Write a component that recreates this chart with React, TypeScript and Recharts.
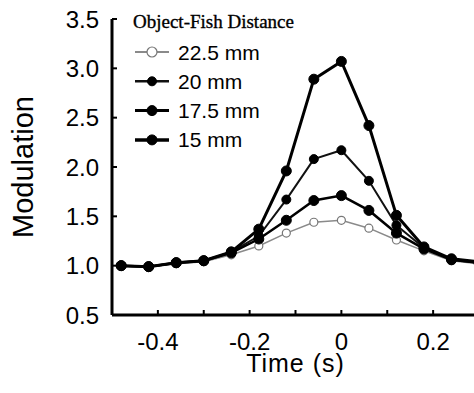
import React from 'react';
import { LineChart, Line, XAxis, YAxis, Legend } from 'recharts';

// time relative to closest approach (s)
const times = [-0.48, -0.42, -0.36, -0.3, -0.24, -0.18, -0.12, -0.06, 0, 0.06, 0.12, 0.18, 0.24, 0.3];

// modulation for each object-fish distance
const mod225 = [1.0, 0.99, 1.02, 1.04, 1.11, 1.2, 1.33, 1.44, 1.46, 1.38, 1.26, 1.15, 1.05, 1.02];
const mod20 = [1.0, 0.99, 1.03, 1.05, 1.14, 1.3, 1.67, 2.08, 2.17, 1.86, 1.41, 1.18, 1.06, 1.03];
const mod175 = [1.0, 0.99, 1.03, 1.05, 1.13, 1.27, 1.46, 1.66, 1.71, 1.56, 1.33, 1.17, 1.06, 1.03];
const mod15 = [1.0, 0.99, 1.03, 1.05, 1.14, 1.37, 1.96, 2.89, 3.07, 2.42, 1.51, 1.19, 1.07, 1.04];

const xTicks = [-0.4, -0.3, -0.2, -0.1, 0, 0.1, 0.2];
const yTicks = [0.5, 1.0, 1.5, 2.0, 2.5, 3.0, 3.5];

const data = times.map((t, i) => ({
  t,
  d225: mod225[i],
  d20: mod20[i],
  d175: mod175[i],
  d15: mod15[i],
}));

const series = [
  { key: 'd225', name: '22.5 mm', stroke: '#8a8a8a', width: 1.5, r: 4, open: true },
  { key: 'd20', name: '20 mm', stroke: '#111', width: 2, r: 4.5, open: false },
  { key: 'd175', name: '17.5 mm', stroke: '#000', width: 2.5, r: 5, open: false },
  { key: 'd15', name: '15 mm', stroke: '#000', width: 3, r: 5, open: false },
];

const sans = '"Liberation Sans", Arial, Helvetica, sans-serif';

const fmtX = (v: number) => {
  const k = Math.round(v * 10);
  if (k % 2 !== 0) return '';
  return k === 0 ? '0' : (k / 10).toFixed(1);
};

// inward tick marks drawn with the label
const X_GAP = 18;
const Y_GAP = 13;

const XTick = (props: any) => {
  const { x, y, payload } = props;
  return (
    <g>
      <line x1={x} x2={x} y1={y - X_GAP} y2={y - X_GAP - 5} stroke="#000" strokeWidth={2} />
      <text x={x} y={y} dy="0.71em" textAnchor="middle" fontFamily={sans} fontSize={24} fill="#000">
        {fmtX(payload.value)}
      </text>
    </g>
  );
};

const YTick = (props: any) => {
  const { x, y, payload } = props;
  return (
    <g>
      <line x1={x + Y_GAP} x2={x + Y_GAP + 5} y1={y} y2={y} stroke="#000" strokeWidth={2} />
      <text x={x} y={y} dy="0.355em" textAnchor="end" fontFamily={sans} fontSize={24} fill="#000">
        {Number(payload.value).toFixed(1)}
      </text>
    </g>
  );
};

const renderLegend = () => (
  <svg width={320} height={160} style={{ display: 'block' }}>
    <text
      x={133}
      y={28}
      fontFamily='"Liberation Serif", "DejaVu Serif", serif'
      fontSize={19}
      stroke="#000"
      strokeWidth={0.35}
      fill="#000"
    >
      Object-Fish Distance
    </text>
    {series.map((s, i) => {
      const cy = 52 + i * 29.3;
      return (
        <g key={s.key}>
          <line x1={135} x2={169} y1={cy} y2={cy} stroke={s.stroke} strokeWidth={s.width + 0.5} />
          <circle
            cx={152}
            cy={cy}
            r={s.open ? 5 : s.r}
            fill={s.open ? '#fff' : '#000'}
            stroke={s.open ? '#777' : '#000'}
            strokeWidth={s.open ? 1.2 : 1}
          />
          <text x={178} y={cy + 7.5} fontFamily={sans} fontSize={21} fill="#000">
            {s.name}
          </text>
        </g>
      );
    })}
  </svg>
);

export default function App() {
  return (
    <div style={{ position: 'absolute', left: 0, top: 0, width: 474, height: 393, overflow: 'hidden', background: '#fff' }}>
      <LineChart width={480} height={393} data={data} margin={{ top: 19, right: 1, bottom: 0, left: 0 }}>
        <XAxis
          dataKey="t"
          type="number"
          domain={[-0.5, 0.3]}
          ticks={xTicks}
          interval={0}
          height={78}
          tickSize={0}
          tickMargin={X_GAP}
          tickLine={false}
          axisLine={{ stroke: '#000', strokeWidth: 3 }}
          tick={<XTick />}
          label={{ value: 'Time (s)', position: 'insideBottom', offset: 21, fill: '#000', fontSize: 25, fontFamily: sans, letterSpacing: 1 }}
        />
        <YAxis
          type="number"
          domain={[0.5, 3.5]}
          ticks={yTicks}
          interval={0}
          width={112}
          tickSize={0}
          tickMargin={Y_GAP}
          tickLine={false}
          axisLine={{ stroke: '#000', strokeWidth: 3 }}
          tick={<YTick />}
          label={{
            value: 'Modulation',
            angle: -90,
            position: 'insideLeft',
            offset: 23,
            fill: '#000',
            fontSize: 29,
            fontFamily: sans,
            style: { textAnchor: 'middle' },
          }}
        />
        <Legend
          layout="horizontal"
          verticalAlign="middle"
          align="center"
          content={renderLegend}
          wrapperStyle={{ position: 'absolute', left: 0, top: 0, width: 320, height: 160 }}
        />
        {series.map((s) => (
          <Line
            key={s.key}
            dataKey={s.key}
            name={s.name}
            type="linear"
            stroke={s.stroke}
            strokeWidth={s.width}
            dot={{
              r: s.r,
              fill: s.open ? '#fff' : '#000',
              stroke: s.open ? '#777' : '#000',
              strokeWidth: s.open ? 1.2 : 1,
            }}
            activeDot={false}
            isAnimationActive={false}
          />
        ))}
      </LineChart>
    </div>
  );
}
